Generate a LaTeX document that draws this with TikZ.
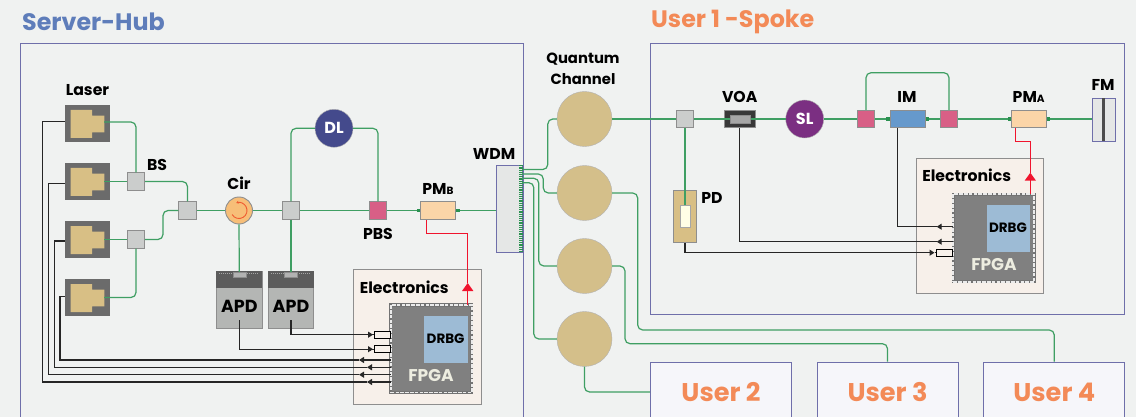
\documentclass[tikz,border=0pt]{standalone}
\usepackage{fontspec}
\setmainfont{Poppins}
\usetikzlibrary{arrows.meta}
\definecolor{bggray}{HTML}{F0F2F1}
\definecolor{framepurple}{HTML}{6F6FAA}
\definecolor{userfill}{HTML}{F6F6FA}
\definecolor{hubblue}{HTML}{5E7DBA}
\definecolor{spokeorange}{HTML}{F38A57}
\definecolor{fibergreen}{HTML}{3F9F63}
\definecolor{stubgreen}{HTML}{2A9150}
\definecolor{lasergray}{HTML}{6B6B6B}
\definecolor{lasertan}{HTML}{D8BF85}
\definecolor{boxgray}{HTML}{CBCDCC}
\definecolor{edgegray}{HTML}{8E8E8E}
\definecolor{pbspink}{HTML}{D85F86}
\definecolor{pmpeach}{HTML}{FBD5A8}
\definecolor{cirorange}{HTML}{F7BE78}
\definecolor{cirred}{HTML}{EF5A30}
\definecolor{dlblue}{HTML}{444A8C}
\definecolor{slpurple}{HTML}{7B2F82}
\definecolor{imblue}{HTML}{6699CC}
\definecolor{chantan}{HTML}{D4BF8A}
\definecolor{elecfill}{HTML}{F7F0EA}
\definecolor{fpgagray}{HTML}{808080}
\definecolor{drbgblue}{HTML}{9DBBD5}
\definecolor{sigred}{HTML}{F0142D}
\definecolor{apdlight}{HTML}{B4B6B4}
\definecolor{apddark}{HTML}{5C5C5C}
\definecolor{fpgatext}{HTML}{EDEDE0}
\tikzset{
    framebox/.style={draw=framepurple, line width=0.9pt, fill=#1, inner sep=0pt},
    lbl/.style={font=\bfseries\fontsize{15.7}{18}\selectfont, text=black, inner sep=0pt},
    headlbl/.style={font=\bfseries\fontsize{23.8}{26}\selectfont, inner sep=0pt},
    userlbl/.style={font=\bfseries\fontsize{25.6}{28}\selectfont, text=spokeorange},
    fiber/.style={draw=fibergreen, line width=1.2pt, rounded corners=5pt},
    sigline/.style={draw=black!85, line width=1.1pt},
    sigtip/.style={sigline, -{Triangle[length=5pt,width=6pt]}},
    redline/.style={draw=sigred, line width=1.5pt},
    redtip/.style={redline, -{Triangle[length=8pt,width=11pt]}},
    laserbox/.style={fill=lasergray, minimum width=45pt, minimum height=37pt, inner sep=0pt},
    splitbox/.style={draw=edgegray, line width=0.9pt, fill=boxgray, minimum size=17.5pt, inner sep=0pt},
    pbsbox/.style={splitbox, fill=pbspink},
    pmbox/.style={draw=edgegray, line width=0.9pt, fill=pmpeach, minimum width=35pt, minimum height=17.5pt, inner sep=0pt},
    dlnode/.style={circle, draw=black!30, fill=#1, minimum size=38pt, inner sep=0pt, text=white,
        font=\bfseries\fontsize{16}{18}\selectfont},
    chan/.style={circle, draw=black!30, fill=chantan, minimum size=55pt, inner sep=0pt},
    elecbox/.style={draw=edgegray, line width=0.9pt, fill=elecfill, minimum width=127.5pt, minimum height=134.5pt, inner sep=0pt},
    fpgabox/.style={minimum width=81pt, minimum height=87.5pt, inner sep=0pt,
        preaction={fill=fpgagray},
        postaction={draw=black!55, line width=3.2pt},
        postaction={draw=black!8, line width=1.8pt, dash pattern=on 3.6pt off 1.2pt}},
    drbgbox/.style={draw=black!50, fill=drbgblue, minimum width=44.5pt, minimum height=48pt, inner sep=0pt,
        font=\bfseries\fontsize{13.5}{15}\selectfont},
    fpgalbl/.style={font=\bfseries\fontsize{17}{20}\selectfont, text=fpgatext, inner sep=0pt},
    pinbox/.style={draw=black, line width=1pt, fill=elecfill, minimum width=16pt, minimum height=7pt, inner sep=0pt},
    apdbox/.style={draw=edgegray, line width=0.8pt, fill=apdlight, minimum width=45.3pt, minimum height=57pt, inner sep=0pt}
}
\begin{document}
\begin{tikzpicture}[x=1pt, y=-1pt]
    \path[use as bounding box] (0,0) rectangle (1136,417);
    \clip (0,0) rectangle (1136,417);
    \fill[bggray] (0,0) rectangle (1136,417);
    \node[framebox=bggray, minimum width=503pt, minimum height=387pt] (hub) at (271.5,236.5) {};
    \node[framebox=bggray, minimum width=474.3pt, minimum height=271pt] (spoke) at (887.6,178.5) {};
    \node[headlbl, text=hubblue, anchor=west] (hubtxt) at (22,22) {Server-Hub};
    \node[headlbl, text=spokeorange, anchor=west] (spoketxt) at (651,22) {User 1 -Spoke};
    \node[framebox=userfill, userlbl, minimum width=141pt, minimum height=60pt] (user2) at (721,392) {User 2};
    \node[framebox=userfill, userlbl, minimum width=141pt, minimum height=60pt] (user3) at (887.5,392) {User 3};
    \node[framebox=userfill, userlbl, minimum width=141pt, minimum height=60pt] (user4) at (1054.3,392) {User 4};

    \foreach \n/\y in {1/123.5,2/181.5,3/239.5,4/297.5}{
        \node[laserbox] (laser\n) at (87.5,\y) {};
        \fill[lasertan] (70.7,\y-13.5) -- (92,\y-13.5) -- (92,\y-7.8) -- (104.3,\y-7.8)
            -- (104.3,\y+8.8) -- (92,\y+8.8) -- (92,\y+14.5) -- (70.7,\y+14.5) -- cycle;
    }
    \node[lbl] (lasertxt) at (87.5,90) {Laser};

    \node[splitbox] (bs1) at (136,181.5) {};
    \node[splitbox] (bs2) at (136,239.5) {};
    \node[splitbox] (bs3) at (187.5,210.5) {};
    \node[lbl] (bstxt) at (157,165) {BS};
    \node[circle, draw=edgegray, line width=0.9pt, fill=cirorange, minimum size=27pt, inner sep=0pt] (cir) at (239,210.5) {};
    \node[lbl] (cirtxt) at (239,183) {Cir};
    \node[splitbox] (bs4) at (291,210.5) {};
    \node[dlnode=dlblue] (dl) at (334,128.3) {DL};
    \node[pbsbox] (pbsB) at (378,210.5) {};
    \node[lbl] (pbstxt) at (378,234) {PBS};
    \node[pmbox] (pmB) at (438.3,210.5) {};
    \node[lbl] (pmBtxt) at (438,189) {PM{\fontsize{10.5}{11}\selectfont B}};
    \node[draw=framepurple, line width=0.9pt, fill=bggray!90!gray, minimum width=25.6pt, minimum height=86.6pt, inner sep=0pt] (wdm) at (509.5,209) {};
    \node[lbl] (wdmtxt) at (494,154) {WDM};

    \coordinate (port1) at (522,169.5);
    \coordinate (port2) at (522,174);
    \coordinate (port3) at (522,178.3);
    \coordinate (port4) at (522,182.7);
    \foreach \n/\y in {1/119,2/193,3/266,4/339}{
        \node[chan] (ch\n) at (584.5,\y) {};
    }
    \node[lbl, align=center, font=\bfseries\fontsize{14.8}{21}\selectfont] (chantxt) at (583,68.5) {Quantum\\Channel};

    \node[elecbox] (elecB) at (417.3,336.8) {};
    \node[lbl] (elecBtxt) at (404.3,287.3) {Electronics};
    \node[fpgabox] (fpgaB) at (431.3,348.8) {};
    \node[drbgbox] (drbgB) at (445.6,339.2) {DRBG};
    \node[fpgalbl] (fpgaBtxt) at (431,376) {FPGA};
    \node[pinbox] (pin1) at (382,334.7) {};
    \node[pinbox] (pin2) at (382,349.2) {};

    \foreach \n/\x in {1/239.3,2/291}{
        \node[apdbox] (apd\n) at (\x,299.5) {};
        \fill[apddark] (apd\n.north west) rectangle ([yshift=-17.7pt]apd\n.north east);
        \draw[black!35, line width=1.6pt, dash pattern=on 1pt off 1pt] (\x-20,273.5) -- (\x+20,273.5);
        \node[draw=black!45, fill=black!30, minimum width=13pt, minimum height=5pt, inner sep=0pt] (apdport\n) at (\x,274.5) {};
        \node[lbl, font=\bfseries\fontsize{17.5}{19}\selectfont] (apdtxt\n) at (\x,306) {APD};
    }

    \node[splitbox] (bs5) at (685,119) {};
    \node[draw=edgegray, line width=0.9pt, fill=black!78, minimum width=30.5pt, minimum height=17.5pt, inner sep=0pt] (voa) at (739.7,119) {};
    \node[lbl] (voatxt) at (739.7,97) {VOA};
    \node[dlnode=slpurple] (sl) at (804.7,119) {SL};
    \node[pbsbox] (pbsA) at (866,119) {};
    \node[draw=edgegray, line width=0.9pt, fill=imblue, minimum width=35pt, minimum height=17.5pt, inner sep=0pt] (im) at (907.6,119) {};
    \node[lbl] (imtxt) at (907,97) {IM};
    \node[pbsbox] (pbsC) at (949,119) {};
    \node[pmbox] (pmA) at (1029,119) {};
    \node[lbl] (pmAtxt) at (1028.7,97) {PM{\fontsize{10.5}{11}\selectfont A}};
    \node[draw=framepurple, line width=0.9pt, fill=bggray!90!gray, minimum width=23.7pt, minimum height=42.7pt, inner sep=0pt] (fm) at (1103.8,119.7) {};
    \node[lbl] (fmtxt) at (1103,85) {FM};
    \node[draw=edgegray, line width=0.9pt, fill=lasertan, minimum width=23.4pt, minimum height=52pt, inner sep=0pt] (pd) at (685,216.3) {};
    \node[draw=black!35, fill=yellow!10!white, minimum width=9.4pt, minimum height=21.7pt, inner sep=0pt] (pdwin) at (685,216.2) {};
    \node[lbl] (pdtxt) at (712,198) {PD};

    \node[elecbox] (elecA) at (979.9,226) {};
    \node[lbl] (elecAtxt) at (966.7,175) {Electronics};
    \node[fpgabox] (fpgaA) at (993.8,238) {};
    \node[drbgbox] (drbgA) at (1008,228) {DRBG};
    \node[fpgalbl] (fpgaAtxt) at (994,265) {FPGA};
    \node[pinbox] (pin3) at (944.8,252.7) {};

    \draw[fiber] ([xshift=-6pt,yshift=1.5pt]laser1.east) -| (bs1.north);
    \draw[fiber] ([xshift=-6pt]laser2.east) -- (bs1.west);
    \draw[fiber] ([xshift=-6pt]laser3.east) -- (bs2.west);
    \draw[fiber] ([xshift=-6pt]laser4.east) -| (bs2.south);
    \draw[fiber] (bs1.east) -| (bs3.north);
    \coordinate (bsbend) at (163,225);
    \draw[fiber] (bs2.east) -| (bsbend) |- (bs3.west);
    \draw[fiber] (bs3.east) -- (cir.west);
    \draw[fiber] (cir.east) -- (bs4.west);
    \draw[fiber] (cir.south) -- (apdport1.north);
    \draw[fiber] (bs4.south) -- (apdport2.north);
    \draw[fiber] (bs4.north) |- (dl.west);
    \draw[fiber] (dl.east) -| (pbsB.north);
    \draw[fiber] (bs4.east) -- (pbsB.west);
    \draw[fiber] (pbsB.east) -- (pmB.west);
    \draw[fiber] (pmB.east) -- (wdm.west |- pmB.east);
    \draw[stubgreen, line width=4pt, dash pattern=on 1.2pt off 1pt] ([xshift=-2pt]wdm.north east) -- ([xshift=-2pt]wdm.south east);
    \draw[fiber] (port1) -| ([xshift=-9pt]ch1.west) -- (ch1.west);
    \draw[fiber] (port2) -| ([xshift=-13.5pt]ch2.west) -- (ch2.west);
    \draw[fiber] (port3) -| ([xshift=-18pt]ch3.west) -- (ch3.west);
    \draw[fiber] (port4) -| ([xshift=-23pt]ch4.west) -- (ch4.west);
    \draw[fiber] (ch4.south) |- (user2.west);
    \coordinate (bendC) at (625,343.7);
    \coordinate (bendD) at (637.7,330);
    \draw[fiber] (ch3.east) -| (bendC) -| (user3.north);
    \draw[fiber] (ch2.east) -| (bendD) -| (user4.north);
    \draw[fiber] (ch1.east) -- (bs5.west);
    \draw[fiber] (bs5.east) -- (voa.center);
    \draw[fiber] (voa.center) -- (sl.west);
    \draw[fiber] (sl.east) -- (pbsA.west);
    \draw[fiber] (pbsA.east) -- (im.west);
    \draw[fiber] (im.east) -- (pbsC.west);
    \draw[fiber] (pbsC.east) -- (pmA.west);
    \draw[fiber] (pmA.east) -- (fm.west |- pmA.east);
    \coordinate (loopA) at (866,72.7);
    \draw[fiber] (pbsA.north) -- (loopA) -| (pbsC.north);
    \draw[fiber] (bs5.south) -- (pdwin.north);
    \node[draw=black!45, fill=black!35, minimum width=20pt, minimum height=7.5pt, inner sep=0pt] (voain) at (739.7,119) {};
    \fill[black!70] ([xshift=-1.5pt,yshift=-21.3pt]fm.center) rectangle ([xshift=1.5pt,yshift=21.3pt]fm.center);
    \foreach \m in {pmB,pmA,im}{
        \fill[stubgreen] ([xshift=-3.5pt,yshift=-1.7pt]\m.west) rectangle ([yshift=1.7pt]\m.west);
        \fill[stubgreen] ([yshift=-1.7pt]\m.east) rectangle ([xshift=3.5pt,yshift=1.7pt]\m.east);
    }

    \coordinate (tipL1) at (367,382);
    \coordinate (tipL2) at (359,374.7);
    \coordinate (tipL3) at (367,367.3);
    \coordinate (tipL4) at (359,360);
    \coordinate (riserL1) at (42.7,382);
    \coordinate (riserL2) at (48.3,374.7);
    \coordinate (riserL3) at (54.3,367.3);
    \coordinate (riserL4) at (60,360);
    \foreach \n/\o in {1/1.8,2/-1.8,3/-1.5,4/0.8}{
        \draw[sigtip] (fpgaB.west |- tipL\n) -- (tipL\n);
        \draw[sigline] (tipL\n) -- (riserL\n) |- ([yshift=\o pt]laser\n.west);
    }
    \coordinate (tipP1) at (373,349.2);
    \coordinate (tipP2) at (373,334.7);
    \draw[sigline] ([yshift=8pt]apd1.south) |- (tipP1);
    \draw[sigline] ([yshift=8pt]apd2.south) |- (tipP2);
    \draw[sigtip] ([xshift=-8pt]tipP1) -- (tipP1);
    \draw[sigtip] ([xshift=-8pt]tipP2) -- (tipP2);
    \draw[sigline] (tipP1) -- (pin2.west);
    \draw[sigline] (tipP2) -- (pin1.west);

    \coordinate (tipIM) at (936.7,226.7);
    \coordinate (tipVOA) at (936.7,241.7);
    \coordinate (tipPD) at (934.5,252.7);
    \draw[sigtip] (fpgaA.west |- tipIM) -- (tipIM);
    \draw[sigline] (tipIM) -| ([xshift=-10pt]im.south);
    \draw[sigtip] (fpgaA.west |- tipVOA) -- (tipVOA);
    \draw[sigline] (tipVOA) -| (voa.south);
    \draw[sigtip] (pd.south) |- (tipPD);
    \draw[sigline] (tipPD) -- (pin3.west);

    \coordinate (redB) at (467.7,233.7);
    \coordinate (tipRedB) at (467.7,283);
    \draw[redtip] (fpgaB.north -| redB) -- (tipRedB);
    \draw[redline] (tipRedB) -- (redB) -| ([xshift=-11.6pt]pmB.south);
    \coordinate (redA) at (1030.3,141.7);
    \coordinate (tipRedA) at (1030.3,172.7);
    \draw[redtip] (fpgaA.north -| redA) -- (tipRedA);
    \draw[redline] (tipRedA) -- (redA) -| ([xshift=-13.3pt]pmA.south);

    \draw[cirred, line width=0.9pt, -{Stealth[length=2.5pt,width=3pt]}] (cir.center) ++(-6.9,4) arc[start angle=150, end angle=-110, radius=8];
\end{tikzpicture}
\end{document}
